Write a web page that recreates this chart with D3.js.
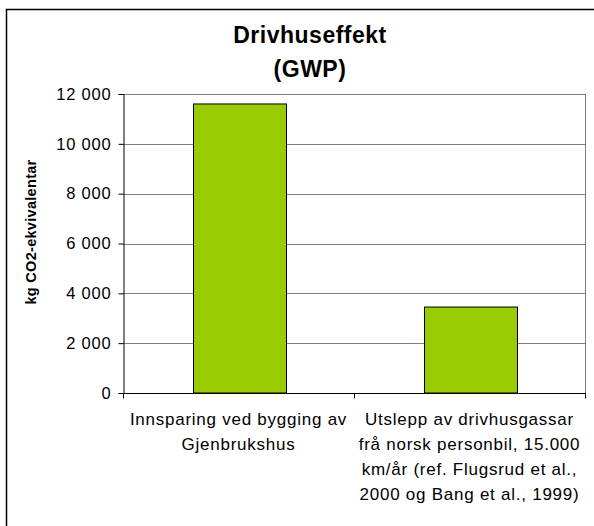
<!DOCTYPE html>
<html><head><meta charset="utf-8">
<script src="https://cdn.jsdelivr.net/npm/d3@7"></script>
<style>body{margin:0;background:#fff}svg{display:block}text{font-family:"Liberation Sans",Arial,sans-serif}</style>
</head><body>
<script>
const categories = [
  ["Innsparing ved bygging av", "Gjenbrukshus"],
  ["Utslepp av drivhusgassar", "frå norsk personbil, 15.000", "km/år (ref. Flugsrud et al.,", "2000 og Bang et al., 1999)"]
];
const values = [11600, 3450];
const yTicks = [0, 2000, 4000, 6000, 8000, 10000, 12000];
const titleLines = ["Drivhuseffekt", "(GWP)"];
const yTitle = "kg CO2-ekvivalentar";

const W = 594, H = 526;
const svg = d3.select("body").append("svg").attr("width", W).attr("height", H);
svg.append("rect").attr("x", 6.5).attr("y", 9.5).attr("width", 620).attr("height", 560)
  .attr("fill", "#fff").attr("stroke", "#000").attr("stroke-width", 1.5);

const L = 123, R = 585, T = 94, B = 393;
const x = d3.scaleBand().domain(d3.range(values.length)).range([L, R]).paddingInner(0).paddingOuter(0);
const y = d3.scaleLinear().domain([0, 12000]).range([B, T]);
const fmt = d => d3.format(",")(d).replace(/,/g, " ");

// gridlines
svg.append("g").selectAll("line").data(yTicks.filter(d => d > 0)).join("line")
  .attr("x1", L).attr("x2", R).attr("y1", d => Math.round(y(d)) + 0.5).attr("y2", d => Math.round(y(d)) + 0.5)
  .attr("stroke", "#7f7f7f").attr("stroke-width", 1);
// right border
svg.append("line").attr("x1", R + 0.5).attr("x2", R + 0.5).attr("y1", T).attr("y2", B).attr("stroke", "#7f7f7f");

// bars
const bw = 93;
svg.append("g").selectAll("rect").data(values).join("rect")
  .attr("x", (d, i) => x(i) + x.bandwidth() / 2 - bw / 2 + 1.5)
  .attr("y", d => y(d))
  .attr("width", bw).attr("height", d => B - y(d))
  .attr("fill", "#99cc00").attr("stroke", "#000").attr("stroke-width", 1);

// y axis
const ya = svg.append("g").attr("transform", `translate(${L + 0.5},0)`)
  .call(d3.axisLeft(y).tickValues(yTicks).tickFormat(fmt).tickSize(5).tickPadding(7));
ya.selectAll("path,line").attr("stroke", "#000");
ya.selectAll("text").attr("font-size", 16.5).attr("letter-spacing", 0.8)
  .attr("font-family", '"Liberation Sans",Arial,sans-serif').attr("fill", "#000");

// x axis
const xa = svg.append("g").attr("transform", `translate(0,${B + 0.5})`);
xa.append("line").attr("x1", L).attr("x2", R + 1).attr("stroke", "#000");
xa.selectAll("line.t").data([L, L + x.bandwidth(), R]).join("line").attr("class", "t")
  .attr("x1", d => Math.round(d) + 0.5).attr("x2", d => Math.round(d) + 0.5).attr("y1", 0).attr("y2", 5).attr("stroke", "#000");

// category labels
categories.forEach((lines, i) => {
  const cx = x(i) + x.bandwidth() / 2;
  const t = svg.append("text").attr("text-anchor", "middle").attr("font-size", 17).attr("letter-spacing", 0.75).attr("fill", "#000");
  lines.forEach((ln, j) => t.append("tspan").attr("x", cx).attr("y", 425 + j * 25).text(ln));
});

// title
const tt = svg.append("text").attr("text-anchor", "middle").attr("font-size", 23).attr("letter-spacing", 0.5).attr("font-weight", "bold");
titleLines.forEach((ln, j) => tt.append("tspan").attr("x", 310).attr("y", 43 + j * 34).text(ln));

// y title
svg.append("text").attr("transform", "translate(36,232) rotate(-90)").attr("text-anchor", "middle")
  .attr("font-size", 14.5).attr("letter-spacing", 0.3).attr("font-weight", "bold").text(yTitle);
</script>
</body></html>
